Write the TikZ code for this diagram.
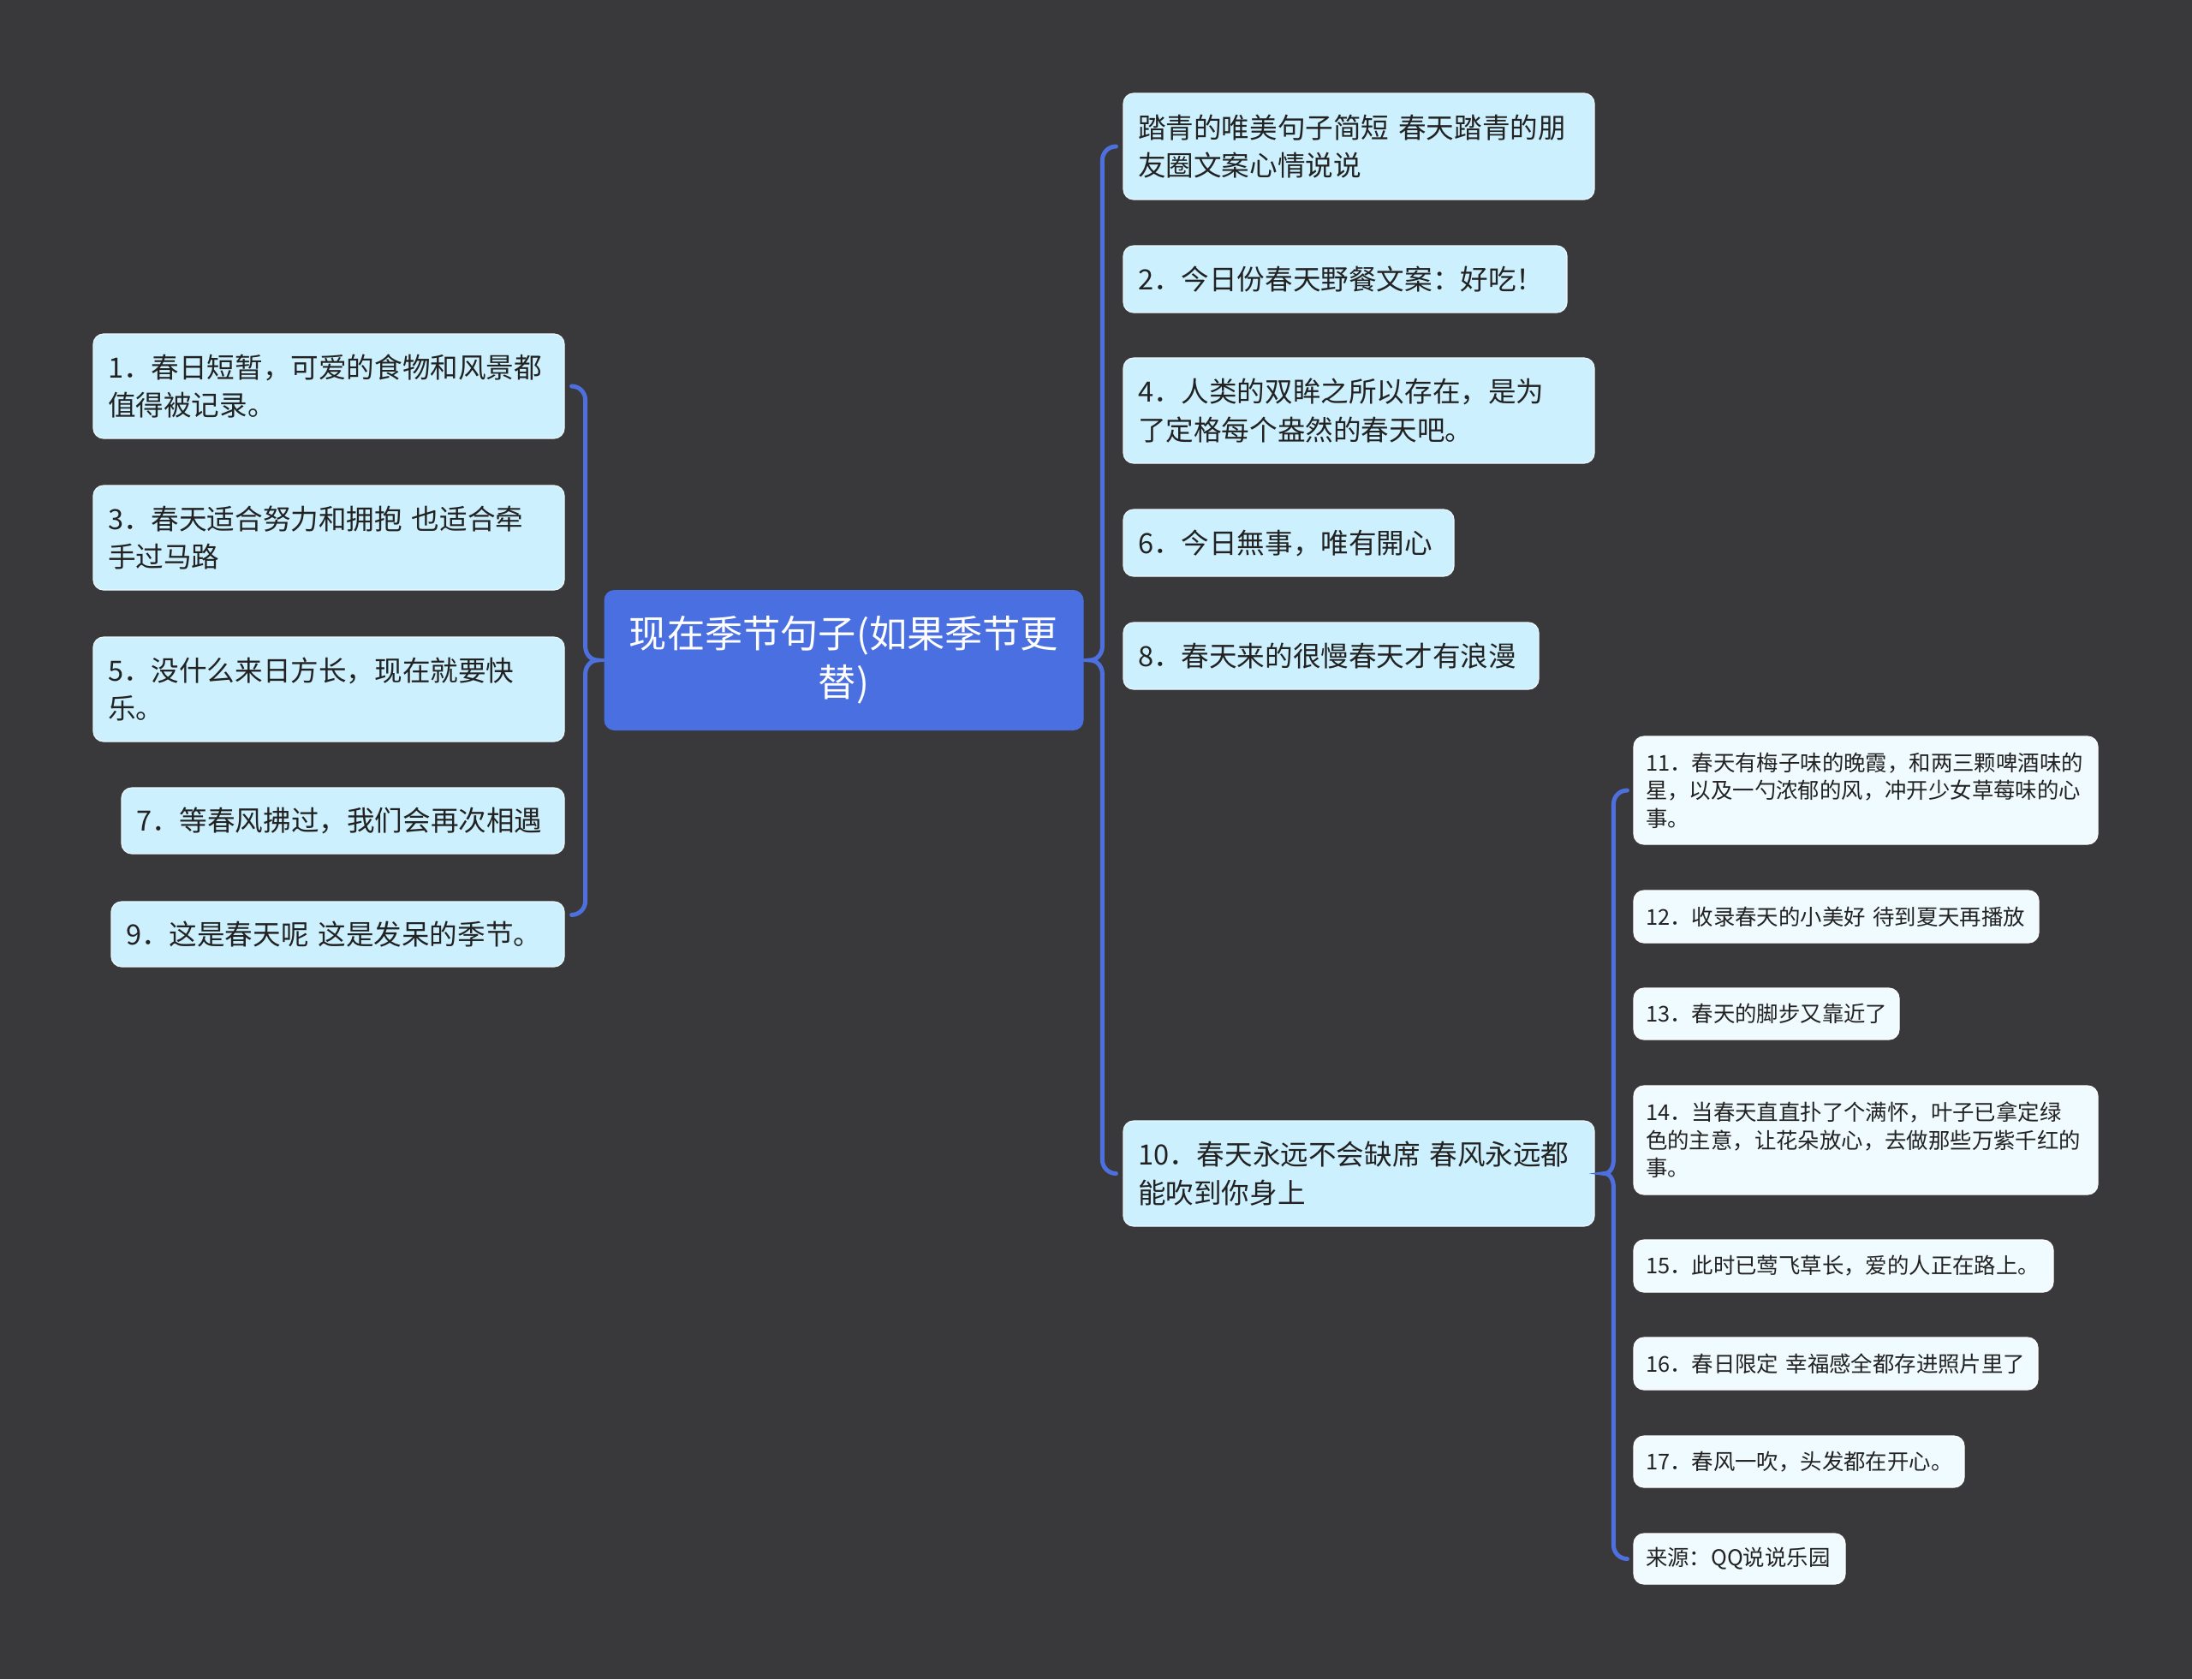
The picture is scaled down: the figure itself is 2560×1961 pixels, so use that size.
\documentclass[tikz,border=0pt]{standalone}
\usepackage{fontspec}
\setmainfont{Noto Sans CJK SC}
\usetikzlibrary{calc}
\definecolor{bgcol}{RGB}{57,56,58}
\definecolor{rootblue}{RGB}{74,111,224}
\definecolor{bracecol}{RGB}{77,112,222}
\definecolor{leafcol}{RGB}{204,240,253}
\definecolor{subcol}{RGB}{240,251,255}
\definecolor{inkcol}{RGB}{34,34,34}

\begin{document}
\begin{tikzpicture}[x=0.5pt,y=-0.5pt,
  rootbox/.style={fill=rootblue, rounded corners=6pt, text=white, align=center, inner xsep=10pt,
    font=\fontsize{22.1pt}{28.6pt}\selectfont},
  leaf/.style={fill=leafcol, draw=white!60!leafcol, line width=0.6pt, rounded corners=6pt, text=inkcol,
    align=left, inner xsep=8.5pt, inner ysep=0pt, font=\fontsize{16.3pt}{22.4pt}\selectfont},
  subleaf/.style={leaf, fill=subcol, draw=white, inner xsep=7pt, font=\fontsize{12.7pt}{16.3pt}\selectfont},
  linkbrace/.style={draw=bracecol, line width=2.5pt, line cap=round}]

\fill[bgcol] (0,0) rectangle (2560,1961);
\useasboundingbox (0,0) rectangle (2560,1961);

\node[rootbox, text width=260pt, minimum height=82pt] (root) at (985.5,771) {现在季节句子(如果季节更\\替)};

\node[leaf, text width=258pt, minimum height=61pt] (n1) at (384,451) {1．春日短暂，可爱的食物和风景都\\值得被记录。};
\node[leaf, text width=258pt, minimum height=61pt] (n3) at (384,628) {3．春天适合努力和拥抱 也适合牵\\手过马路};
\node[leaf, text width=258pt, minimum height=61pt] (n5) at (384,805) {5．没什么来日方长，现在就要快\\乐。};
\node[leaf, text width=241.5pt, minimum height=38.5pt] (n7) at (400.5,958.5) {7．等春风拂过，我们会再次相遇};
\node[leaf, text width=247.5pt, minimum height=38pt] (n9) at (394.5,1091) {9．这是春天呢 这是发呆的季节。};

\node[leaf, text width=258pt, minimum height=62pt] (r0) at (1587,171) {踏青的唯美句子简短 春天踏青的朋\\友圈文案心情说说};
\node[leaf, text width=242pt, minimum height=39pt] (r2) at (1571,326) {2．今日份春天野餐文案：好吃！};
\node[leaf, text width=258pt, minimum height=61.5pt] (r4) at (1587,479.5) {4．人类的双眸之所以存在，是为\\了定格每个盎然的春天吧。};
\node[leaf, text width=176pt, minimum height=39pt] (r6) at (1505,634) {6．今日無事，唯有開心};
\node[leaf, text width=225.5pt, minimum height=39pt] (r8) at (1554.5,766) {8．春天来的很慢春天才有浪漫};
\node[leaf, text width=258pt, minimum height=61.5pt] (r10) at (1587,1370.5) {10．春天永远不会缺席 春风永远都\\能吹到你身上};

\node[subleaf, text width=257pt, minimum height=63pt] (s11) at (2179,923) {11．春天有梅子味的晚霞，和两三颗啤酒味的\\星，以及一勺浓郁的风，冲开少女草莓味的心\\事。};
\node[subleaf, text width=222.5pt, minimum height=30.5pt] (s12) at (2144.5,1070.5) {12．收录春天的小美好 待到夏天再播放};
\node[subleaf, text width=141pt, minimum height=30pt] (s13) at (2063,1184) {13．春天的脚步又靠近了};
\node[subleaf, text width=257pt, minimum height=63.5pt] (s14) at (2179,1331.5) {14．当春天直直扑了个满怀，叶子已拿定绿\\色的主意，让花朵放心，去做那些万紫千红的\\事。};
\node[subleaf, text width=231pt, minimum height=30.5pt] (s15) at (2153,1478.5) {15．此时已莺飞草长，爱的人正在路上。};
\node[subleaf, text width=222pt, minimum height=30.5pt] (s16) at (2144,1592.5) {16．春日限定 幸福感全都存进照片里了};
\node[subleaf, text width=179pt, minimum height=30pt] (s17) at (2101,1707) {17．春风一吹，头发都在开心。};
\node[subleaf, text width=109.5pt, minimum height=29.5pt] (src) at (2031.5,1820.5) {来源：QQ说说乐园};

\coordinate (lcusp) at ([xshift=-3.5pt]root.west);
\coordinate (rcusp) at ([xshift=3.5pt]root.east);
\coordinate (scusp) at ([xshift=5.5pt]r10.east);

\draw[linkbrace] ([xshift=4pt]n1.east) to[out=0,in=90] ++(8pt,-8pt) coordinate (ltop)
  -- ($(ltop |- lcusp)+(0,8pt)$) to[out=-90,in=180] (lcusp)
  to[out=180,in=90] ($(ltop |- lcusp)+(0,-8pt)$)
  -- (ltop |- n9.north) to[out=-90,in=0] ++(-8pt,-8pt);

\draw[linkbrace] ([xshift=-4pt]r0.west) to[out=180,in=90] ++(-8pt,-8pt) coordinate (rtop)
  -- ($(rtop |- rcusp)+(0,8pt)$) to[out=-90,in=0] (rcusp)
  to[out=0,in=90] ($(rtop |- rcusp)+(0,-8pt)$)
  -- ($(rtop |- r10.west)+(0,8pt)$) to[out=-90,in=180] ([xshift=-4pt]r10.west);

\draw[linkbrace] ([xshift=-3.5pt]s11.west) to[out=180,in=90] ++(-8pt,-8pt) coordinate (stop)
  -- ($(stop |- scusp)+(0,8pt)$) to[out=-90,in=0] (scusp)
  to[out=0,in=90] ($(stop |- scusp)+(0,-8pt)$)
  -- ($(stop |- src.west)+(0,8pt)$) to[out=-90,in=180] ([xshift=-3.5pt]src.west);

\end{tikzpicture}
\end{document}
